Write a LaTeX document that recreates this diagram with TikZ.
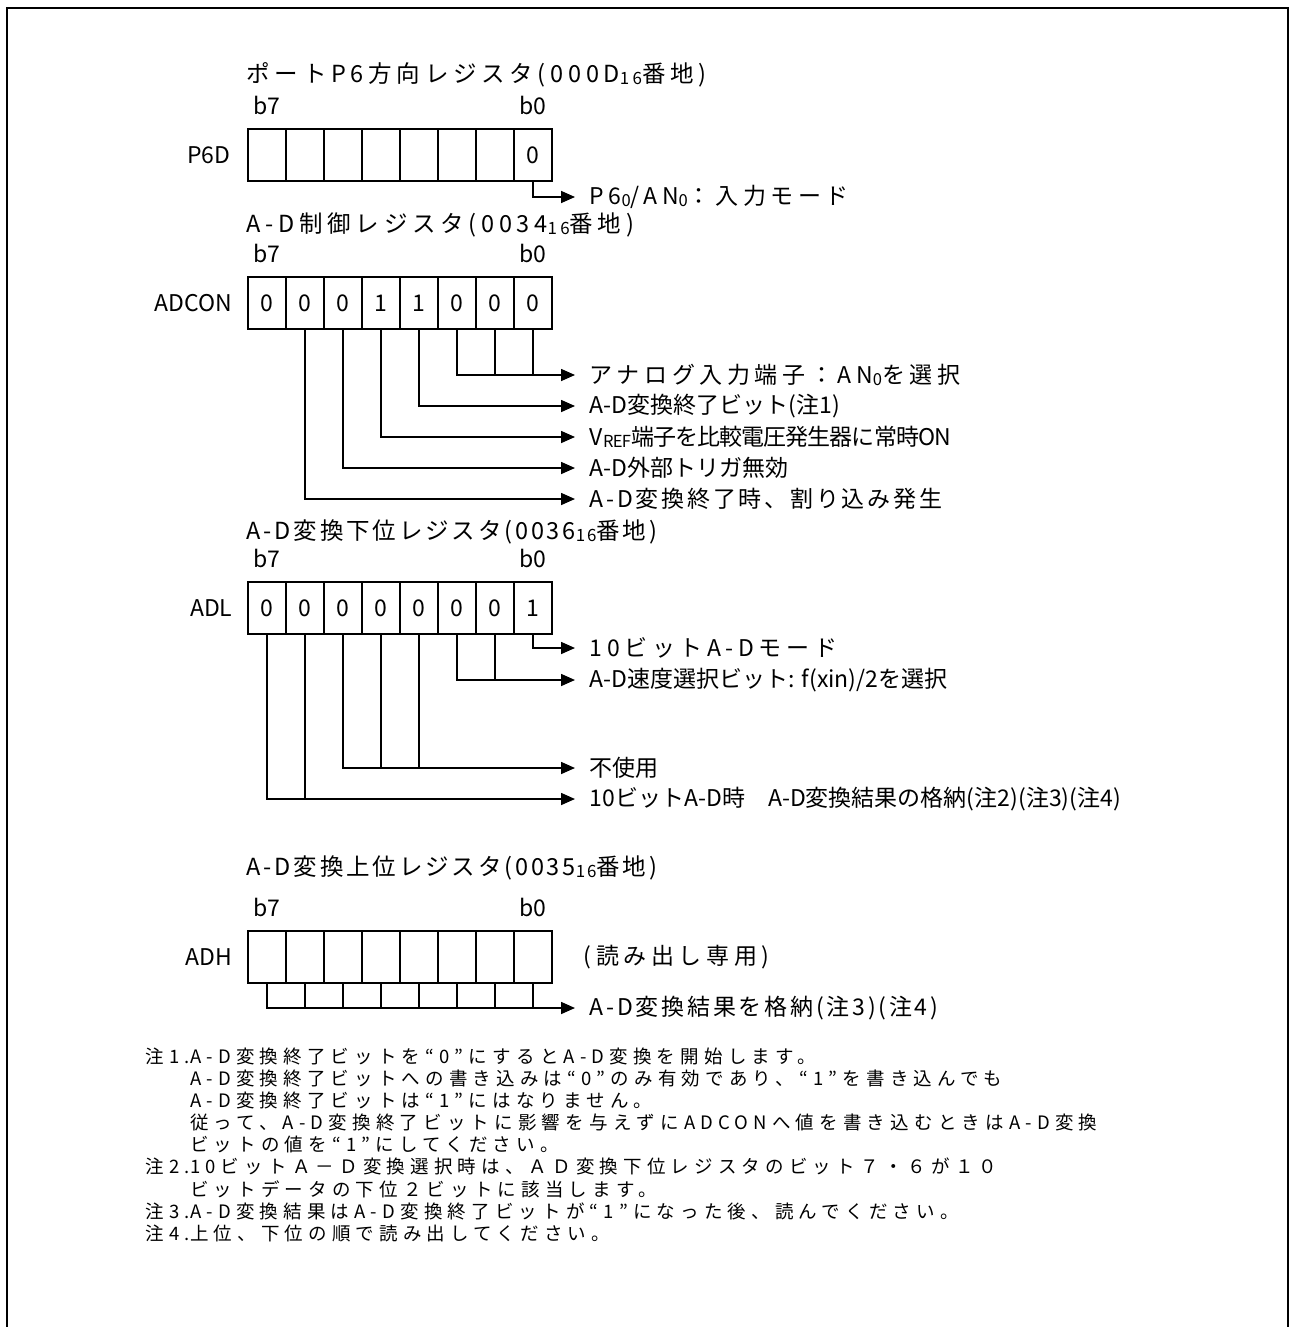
\documentclass[tikz,border=0pt]{standalone}
\usepackage{fontspec}
\usepackage{graphicx}
\setmainfont{Noto Sans CJK JP}
\newfontfamily\jpsp[LetterSpace=20]{Noto Sans CJK JP}
\newfontfamily\jpmid[LetterSpace=12]{Noto Sans CJK JP}
\newfontfamily\jpnar[LetterSpace=-4]{Noto Sans CJK JP}
\newfontfamily\jpnote[LetterSpace=28]{Noto Sans CJK JP}
\usetikzlibrary{arrows.meta}
\newcommand\lo[1]{\raisebox{-0.15ex}{\scalebox{0.72}{#1}}}

\begin{document}
\begin{tikzpicture}[x=1pt,y=-1pt,line width=1.6pt,
  cell/.style={draw,minimum width=38pt,minimum height=52pt,inner sep=0pt,font=\fontsize{23}{26}\selectfont},
  txt/.style={inner sep=0pt,font=\fontsize{23}{27}\selectfont},
  spc/.style={inner sep=0pt,font=\fontsize{23}{27}\jpsp},
  mid/.style={inner sep=0pt,font=\fontsize{23}{27}\jpmid},
  nar/.style={inner sep=0pt,font=\fontsize{23}{27}\jpnar},
  title/.style={inner sep=0pt,anchor=west,font=\fontsize{23.5}{27}\jpsp},
  title2/.style={title,font=\fontsize{23.5}{27}\jpmid},
  lbl/.style={anchor=west,inner xsep=14pt},
  note/.style={inner sep=0pt,font=\fontsize{18.5}{21.8}\jpnote},
  arr/.style={-{Triangle[length=14pt,width=12pt]}}]
\useasboundingbox (0,0) rectangle (1291,1327);
% frame, open at the bottom
\draw[line width=2.4pt] (7,1327) -- (7,8) -- (1288,8) -- (1288,1327);

% P6D
\node[title] (t-p6d) at (246,75) {ポートP6方向レジスタ(000D\lo{16}番地)};
\foreach \v [count=\i from 0] in {{},{},{},{},{},{},{},0} { % cells b7..b0
  \pgfmathtruncatemacro\b{7-\i}
  \node[cell] (p6d\b) at ({267+38*\i},155) {\v};
}
\node[txt,above=13pt] (p6d-b7) at (p6d7.north) {b7};
\node[txt,above=13pt] (p6d-b0) at (p6d0.north) {b0};
\node[txt,left=16pt] (n-p6d) at (p6d7.west) {P6D};
\node[spc,lbl] (l-p6d) at (575,197) {P6\lo{0}/AN\lo{0}：入力モード};
\draw[arr] (p6d0.south) |- (l-p6d.west);

% ADCON
\node[title] (t-adcon) at (246,225) {A-D制御レジスタ(0034\lo{16}番地)};
\foreach \v [count=\i from 0] in {0,0,0,1,1,0,0,0} {
  \pgfmathtruncatemacro\b{7-\i}
  \node[cell] (adcon\b) at ({267+38*\i},303) {\v};
}
\node[txt,above=13pt] (adcon-b7) at (adcon7.north) {b7};
\node[txt,above=13pt] (adcon-b0) at (adcon0.north) {b0};
\node[txt,left=14pt] (n-adcon) at (adcon7.west) {ADCON};
\node[spc,lbl] (l-an) at (575,375) {アナログ入力端子：AN\lo{0}を選択};
\node[txt,lbl] (l-end) at (575,406) {A-D変換終了ビット(注1)};
\node[nar,lbl] (l-vref) at (575,437) {V\lo{REF}端子を比較電圧発生器に常時ON};
\node[txt,lbl] (l-trg) at (575,468) {A-D外部トリガ無効};
\node[mid,lbl] (l-int) at (575,499) {A-D変換終了時、割り込み発生};
\draw[arr] (adcon2.south) |- (l-an.west);
\foreach \b in {1,0}
  \draw (adcon\b.south) -- (adcon\b.south |- l-an.west);
\foreach \b/\n in {3/end,4/vref,5/trg,6/int} % one bit, one arrow
  \draw[arr] (adcon\b.south) |- (l-\n.west);

% ADL
\node[title2] (t-adl) at (246,532) {A-D変換下位レジスタ(0036\lo{16}番地)};
\foreach \v [count=\i from 0] in {0,0,0,0,0,0,0,1} {
  \pgfmathtruncatemacro\b{7-\i}
  \node[cell] (adl\b) at ({267+38*\i},608) {\v};
}
\node[txt,above=13pt] (adl-b7) at (adl7.north) {b7};
\node[txt,above=13pt] (adl-b0) at (adl0.north) {b0};
\node[txt,left=14pt] (n-adl) at (adl7.west) {ADL};
\node[spc,lbl] (l-mode) at (575,648) {10ビットA-Dモード};
\node[txt,lbl] (l-spd) at (575,680) {A-D速度選択ビット: f(xin)/2を選択};
\node[txt,lbl] (l-unused) at (575,768) {不使用};
\node[txt,lbl] (l-res10) at (575,799) {10ビットA-D時　A-D変換結果の格納(注2)(注3)(注4)};
\draw[arr] (adl0.south) |- (l-mode.west);
\draw[arr] (adl2.south) |- (l-spd.west);
\draw (adl1.south) -- (adl1.south |- l-spd.west);
\draw[arr] (adl5.south) |- (l-unused.west);
\foreach \b in {4,3}
  \draw (adl\b.south) -- (adl\b.south |- l-unused.west);
\draw[arr] (adl7.south) |- (l-res10.west);
\draw (adl6.south) -- (adl6.south |- l-res10.west);

% ADH
\node[title2] (t-adh) at (246,868) {A-D変換上位レジスタ(0035\lo{16}番地)};
\foreach \i in {0,...,7} {
  \pgfmathtruncatemacro\b{7-\i}
  \node[cell] (adh\b) at ({267+38*\i},957) {};
}
\node[txt,above=13pt] (adh-b7) at (adh7.north) {b7};
\node[txt,above=13pt] (adh-b0) at (adh0.north) {b0};
\node[txt,left=14pt] (n-adh) at (adh7.west) {ADH};
\node[spc,anchor=west] (l-ro) at (583,957) {(読み出し専用)};
\node[mid,lbl] (l-res) at (575,1008) {A-D変換結果を格納(注3)(注4)};
\draw[arr] (adh7.south) |- (l-res.west);
\foreach \b in {6,...,0}
  \draw (adh\b.south) -- (adh\b.south |- l-res.west);

% notes
\node[note,anchor=north west] (notes) at (145,1047) {%
  \begin{tabular}{@{}l@{}l@{}}
  注1. & A-D変換終了ビットを“0”にするとA-D変換を開始します。\\
       & A-D変換終了ビットへの書き込みは“0”のみ有効であり、“1”を書き込んでも\\
       & A-D変換終了ビットは“1”にはなりません。\\
       & 従って、A-D変換終了ビットに影響を与えずにADCONへ値を書き込むときはA-D変換\\
       & ビットの値を“1”にしてください。\\
  注2. & 10ビットＡ－Ｄ変換選択時は、ＡＤ変換下位レジスタのビット７・６が１０\\
       & ビットデータの下位２ビットに該当します。\\
  注3. & A-D変換結果はA-D変換終了ビットが“1”になった後、読んでください。\\
  注4. & 上位、下位の順で読み出してください。
  \end{tabular}};
\end{tikzpicture}
\end{document}
